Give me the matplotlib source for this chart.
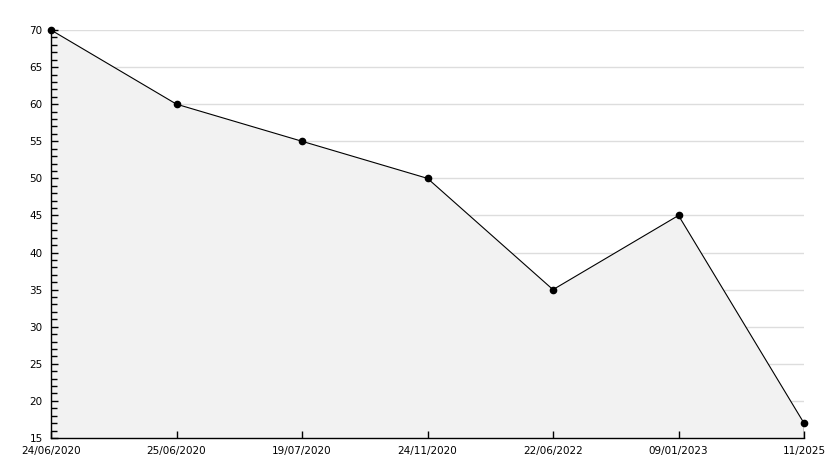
import matplotlib
matplotlib.use("Agg")
import matplotlib.pyplot as plt
from matplotlib.ticker import MultipleLocator

categories = ["24/06/2020", "25/06/2020", "19/07/2020", "24/11/2020",
              "22/06/2022", "09/01/2023", "11/2025"]
values = [70, 60, 55, 50, 35, 45, 17]
y_min, y_max, y_step = 15, 70, 5

fig = plt.figure(figsize=(8.34, 4.68), dpi=100)
ax = fig.add_axes([51/834, 30/468, (804-51)/834, (438-30)/468])
x = list(range(len(categories)))

for gy in range(y_min + y_step, y_max + 1, y_step):
    ax.axhline(gy, color="#dddddd", lw=1, zorder=0)

ax.fill_between(x, values, y_min, facecolor="#f2f2f2", edgecolor="none", zorder=1)
ax.plot([x[-1], x[-1]], [y_min, values[-1]], color="black", lw=1, zorder=3)
ax.plot(x, values, color="black", lw=0.8, marker="o", markersize=4.5, zorder=4, clip_on=False)

ax.set_xlim(0, len(categories) - 1)
ax.set_ylim(y_min, y_max)
ax.set_xticks(x)
ax.set_xticklabels(categories)
ax.yaxis.set_major_locator(MultipleLocator(y_step))
ax.yaxis.set_minor_locator(MultipleLocator(1))
ax.set_axisbelow(False)

for s in ["top", "right"]:
    ax.spines[s].set_visible(False)
ax.spines["left"].set_linewidth(1)
ax.spines["bottom"].set_linewidth(1)

ax.tick_params(axis="y", which="major", direction="in", length=5, width=1, labelsize=7.5, pad=6)
ax.tick_params(axis="y", which="minor", direction="in", length=4, width=1)
ax.tick_params(axis="x", which="major", direction="in", length=5, width=1, labelsize=7.5, pad=6)

fig.savefig("out.png", dpi=100)
